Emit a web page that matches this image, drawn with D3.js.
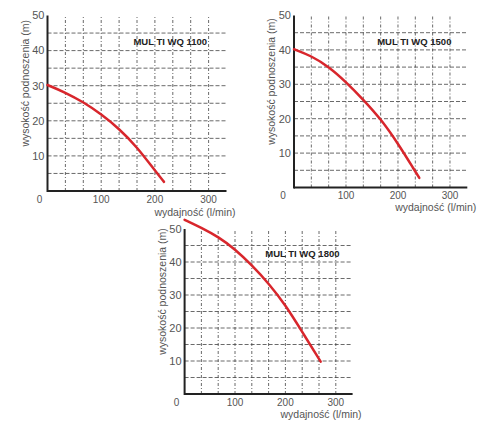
<!DOCTYPE html>
<html lang="pl">
<head>
    <meta charset="UTF-8">
    <title>MULTI WQ - charakterystyki pomp</title>
    <script src="https://cdnjs.cloudflare.com/ajax/libs/d3/7.8.2/d3.min.js"></script>
    <style>
        body {
            margin: 0;
            background: #fff;
            font-family: "Liberation Sans", Arial, sans-serif;
        }
        .tick-label {
            font-size: 10px;
            fill: #555;
        }
        .axis-title {
            font-size: 10.5px;
            fill: #555;
        }
        .model {
            font-size: 9.5px;
            font-weight: bold;
            fill: #222;
        }
    </style>
</head>
<body>
<div id="chart"></div>
<script>
    // Data: flow (l/min) vs head (m)
    const wq1100Flow = [0, 33, 67, 100, 133, 167, 200, 217];
    const wq1100Head = [30.2, 28.1, 25.3, 21.9, 17.8, 12.5, 5.8, 2.6];

    const wq1500Flow = [0, 33, 67, 100, 133, 167, 200, 233, 241];
    const wq1500Head = [40.2, 38.3, 35.1, 30.7, 25.6, 19.9, 12.8, 4.7, 2.8];

    const wq1800Flow = [0, 33, 67, 100, 133, 167, 200, 233, 270];
    const wq1800Head = [52.8, 50.4, 47.6, 43.9, 39.1, 33.5, 27, 18.9, 9.8];

    const models = ["MUL TI WQ 1100", "MUL TI WQ 1500", "MUL TI WQ 1800"];
    const xTicks = [0, 100, 200, 300];
    const yTicks = [10, 20, 30, 40, 50];
    const xGrid = d3.range(1, 10).map(k => k * 100 / 3);
    const yGrid = d3.range(5, 50, 5);

    const width = 500, height = 428;
    const xMax = 1000 / 3, yMax = 50;

    // pixel frame of each small chart
    const panels = [
        { flow: wq1100Flow, head: wq1100Head, name: models[0], x: [47.5, 226.5], y: [191, 15.5], xTitleY: 215.5, zeroDx: -8 },
        { flow: wq1500Flow, head: wq1500Head, name: models[1], x: [294, 467.3], y: [187.5, 15.5], xTitleY: 210.5, zeroDx: -11 },
        { flow: wq1800Flow, head: wq1800Head, name: models[2], x: [184.6, 352.6], y: [394, 229], xTitleY: 418, zeroDx: -8 }
    ];

    const svg = d3.select("#chart")
        .append("svg")
        .attr("width", width)
        .attr("height", height);

    panels.forEach(p => {
        const x = d3.scaleLinear().domain([0, xMax]).range(p.x);
        const y = d3.scaleLinear().domain([0, yMax]).range(p.y);
        const g = svg.append("g");

        // grid
        g.selectAll(".hgrid")
            .data(yGrid)
            .enter()
            .append("line")
            .attr("x1", x(0)).attr("x2", x(xMax))
            .attr("y1", d => y(d)).attr("y2", d => y(d))
            .attr("stroke", "#444")
            .attr("stroke-width", 0.8)
            .attr("stroke-dasharray", "4,2");

        g.selectAll(".vgrid")
            .data(xGrid)
            .enter()
            .append("line")
            .attr("x1", d => x(d)).attr("x2", d => x(d))
            .attr("y1", y(0)).attr("y2", y(yMax))
            .attr("stroke", "#444")
            .attr("stroke-width", 0.8)
            .attr("stroke-dasharray", "3,2,1,2");

        // axes
        g.append("line")
            .attr("x1", x(0)).attr("x2", x(xMax))
            .attr("y1", y(0)).attr("y2", y(0))
            .attr("stroke", "#222")
            .attr("stroke-width", 2);
        g.append("line")
            .attr("x1", x(0)).attr("x2", x(0))
            .attr("y1", y(0) + 1).attr("y2", y(yMax))
            .attr("stroke", "#222")
            .attr("stroke-width", 2);

        // tick labels
        g.selectAll(".xt")
            .data(xTicks)
            .enter()
            .append("text")
            .attr("class", "tick-label")
            .attr("x", d => d === 0 ? x(d) + p.zeroDx : x(d))
            .attr("y", y(0) + 11.5)
            .attr("text-anchor", "middle")
            .text(d => d);

        g.selectAll(".yt")
            .data(yTicks)
            .enter()
            .append("text")
            .attr("class", "tick-label")
            .attr("x", x(0) - 3)
            .attr("y", d => y(d))
            .attr("dy", "0.35em")
            .attr("text-anchor", "end")
            .style("font-size", "11px")
            .text(d => d);

        // titles
        g.append("text")
            .attr("class", "axis-title")
            .attr("transform", `translate(${x(0) - 19},${(y(0) + y(yMax)) / 2 - 20}) rotate(-90)`)
            .attr("text-anchor", "middle")
            .text("wysokość podnoszenia (m)");

        g.append("text")
            .attr("class", "axis-title")
            .attr("x", x(xMax) + 9)
            .attr("y", p.xTitleY)
            .attr("text-anchor", "end")
            .text("wydajność (l/min)");

        g.append("text")
            .attr("class", "model")
            .attr("x", x(160))
            .attr("y", y(42.5))
            .attr("dy", "0.35em")
            .text(p.name);

        // pump curve
        const pts = p.flow.map((q, i) => [q, p.head[i]]);
        const line = d3.line()
            .x(d => x(d[0]))
            .y(d => y(d[1]))
            .curve(d3.curveBasis);

        g.append("path")
            .datum(pts)
            .attr("d", line)
            .attr("fill", "none")
            .attr("stroke", "#d8262c")
            .attr("stroke-width", 2.5)
            .attr("stroke-linecap", "round");
    });
</script>
</body>
</html>
